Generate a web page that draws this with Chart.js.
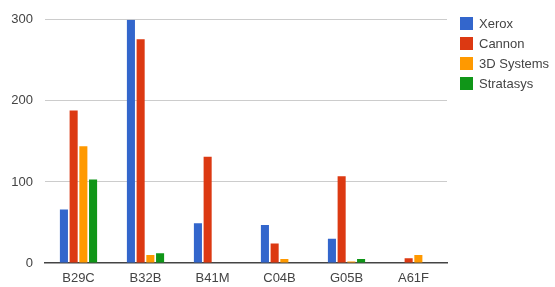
<!DOCTYPE html>
<html>
<head>
<meta charset="utf-8">
<script src="https://cdn.jsdelivr.net/npm/chart.js@4/dist/chart.umd.min.js"></script>
<style>
  html, body { margin: 0; padding: 0; background: #ffffff; }
  #wrap { width: 555px; height: 287px; position: relative; }
</style>
</head>
<body>
<div id="wrap"><canvas id="myChart" width="555" height="287"></canvas></div>
<script>
const categories = ["B29C", "B32B", "B41M", "C04B", "G05B", "A61F"];
const seriesNames = ["Xerox", "Cannon", "3D Systems", "Stratasys"];
const xerox = [66, 300, 49, 47, 30, 0];
const cannon = [188, 276, 131, 24, 107, 6];
const systems3d = [144, 10, 0, 5, 2, 10];
const stratasys = [103, 12, 0, 0, 5, 0];
const yTicks = [0, 100, 200, 300];
const colors = ["#3366cc", "#dc3912", "#ff9900", "#109618"];

const seriesValues = [xerox, cannon, systems3d, stratasys];
const FONT = "'Liberation Sans', Arial, sans-serif";

// legend drawn by hand so the boxes land where google charts put them
const sideLegend = {
  id: "sideLegend",
  afterDraw(chart) {
    const ctx = chart.ctx;
    ctx.save();
    ctx.font = "13px " + FONT;
    ctx.textBaseline = "middle";
    chart.data.datasets.forEach((ds, i) => {
      const y = 17 + i * 20;
      ctx.fillStyle = ds.backgroundColor;
      ctx.fillRect(460, y, 13, 13);
      ctx.fillStyle = "#444";
      ctx.fillText(ds.label, 479, y + 7);
    });
    ctx.restore();
  },
};

new Chart(document.getElementById("myChart").getContext("2d"), {
  type: "bar",
  data: {
    labels: categories,
    datasets: seriesNames.map((name, i) => ({
      label: name,
      data: seriesValues[i],
      backgroundColor: colors[i],
      borderWidth: 0,
      categoryPercentage: 0.58,
      barPercentage: 0.83,
    })),
  },
  options: {
    responsive: false,
    animation: false,
    maintainAspectRatio: false,
    layout: { padding: { top: 16, right: 108, left: 0, bottom: 0 } },
    plugins: {
      legend: { display: false },
      tooltip: { enabled: false },
    },
    scales: {
      x: {
        grid: { display: false, drawTicks: false },
        border: { display: true, color: "#444", width: 1.5 },
        ticks: { color: "#444", font: { family: FONT, size: 13 }, padding: 8 },
        afterFit(scale) { scale.height = 24; },
      },
      y: {
        min: 0,
        max: 300,
        afterBuildTicks(scale) { scale.ticks = yTicks.map((v) => ({ value: v })); },
        grid: { color: (c) => (c.tick.value === 0 ? "rgba(0,0,0,0)" : "#cccccc"), drawTicks: false },
        border: { display: false },
        ticks: { color: "#444", font: { family: FONT, size: 13 }, padding: 12 },
        afterFit(scale) { scale.width = 45; },
      },
    },
  },
  plugins: [sideLegend],
});
</script>
</body>
</html>
